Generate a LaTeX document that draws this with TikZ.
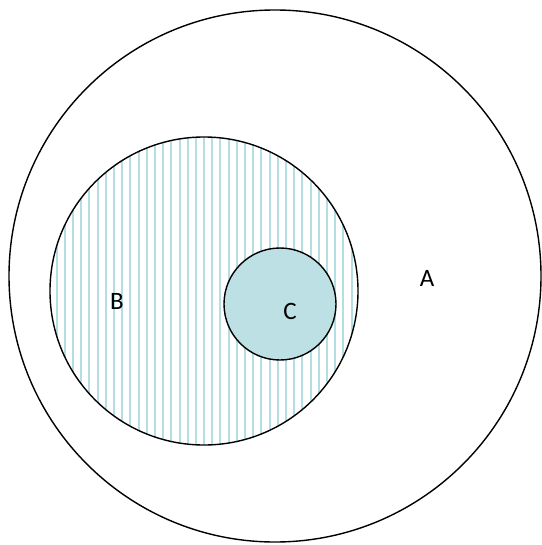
\documentclass[tikz,border=0pt]{standalone}
\usepackage{fontspec}
\setmainfont{Carlito}
\definecolor{cfill}{RGB}{189,224,228}
\definecolor{stripe}{RGB}{178,222,228}
\begin{document}
\begin{tikzpicture}[x=1pt,y=-1pt,
  ring/.style={draw=black,line width=1.4pt},
  lbl/.style={font=\fontsize{25}{25}\selectfont,inner sep=0pt}]
\useasboundingbox (0,0) rectangle (541,545);
\fill[white] (0,0) rectangle (541,545);
\node[ring,circle,minimum size=532pt,inner sep=0pt] (A) at (275,276) {};
\begin{scope}
  \clip (204,291) circle (154);
  \foreach \i in {0,...,37} {
    \draw[stripe,line width=2pt] ({48.5+8.19*\i},130) -- ({48.5+8.19*\i},450);
  }
\end{scope}
\node[ring,circle,minimum size=308pt,inner sep=0pt] (B) at (204,291) {};
\node[ring,circle,fill=cfill,minimum size=112pt,inner sep=0pt] (C) at (280,304) {};
\node[lbl] (la) at (427,278) {A};
\node[lbl] (lb) at (117,301) {B};
\node[lbl] (lc) at (290,311) {C};
\end{tikzpicture}
\end{document}
